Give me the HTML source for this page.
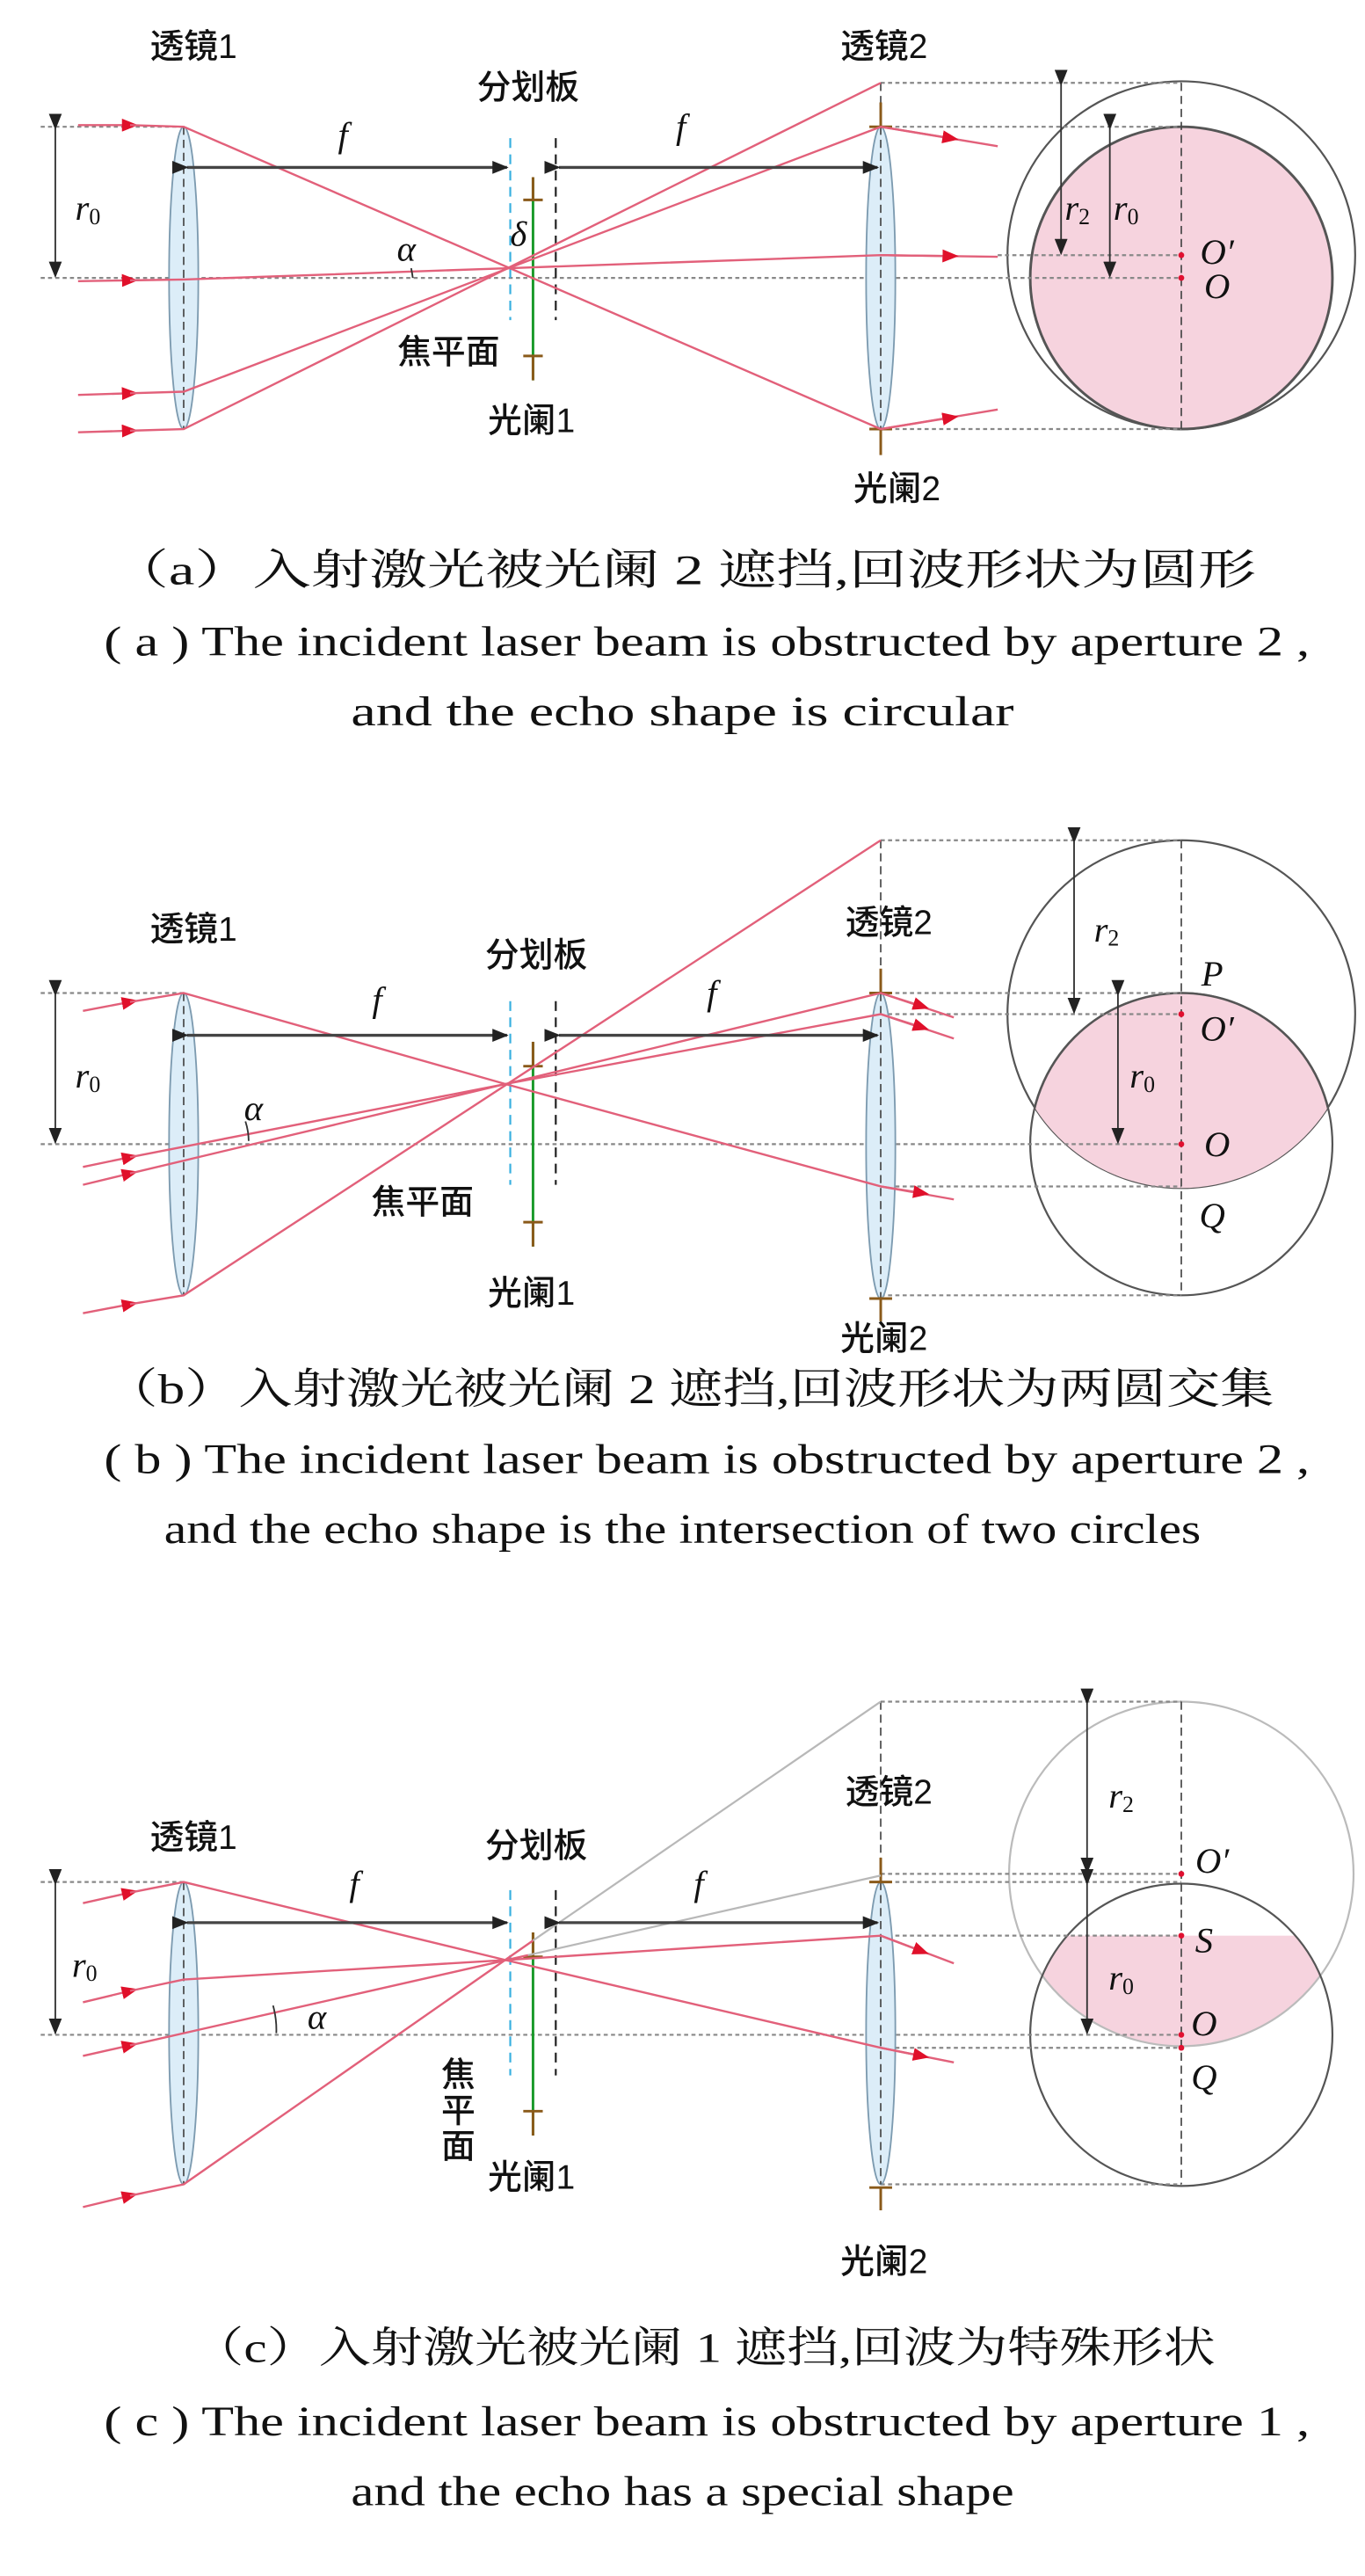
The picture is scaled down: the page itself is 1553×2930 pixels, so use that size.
<!DOCTYPE html>
<html><head><meta charset="utf-8"><style>
html,body{margin:0;padding:0;background:#fff;}
svg{display:block;}
.cj{font-family:"Liberation Sans","Noto Sans CJK SC",sans-serif;font-size:21px;font-weight:500;fill:#111;text-anchor:middle;dominant-baseline:central;}
.it{font-family:"Liberation Serif",serif;font-style:italic;font-size:22px;fill:#111;text-anchor:middle;dominant-baseline:central;}
.sub{font-size:14px;font-style:normal;}
.cap{font-family:"Liberation Serif","Noto Serif CJK SC",serif;font-size:26px;fill:#111;dominant-baseline:central;}
.ray{stroke:#e2607a;stroke-width:1.3;fill:none;}
.gray{stroke:#b8b8b8;stroke-width:1.2;fill:none;}
.dot{stroke:#888;stroke-width:1.2;stroke-dasharray:2.5 2;fill:none;}
.vd{stroke:#444;stroke-width:0.9;stroke-dasharray:5 3;fill:none;}
.lens{fill:#dcedf8;stroke:#7d9bb0;stroke-width:1;}
.ap{stroke:#8a5a1a;stroke-width:1.6;}
.grn{stroke:#1a9a2a;stroke-width:1.6;}
.cy{stroke:#3ab0e0;stroke-width:1.2;stroke-dasharray:6 4;}
.bd{stroke:#222;stroke-width:1.2;stroke-dasharray:6 4;}
.dim{stroke:#333;stroke-width:1;fill:none;}
.fdim{stroke:#444;stroke-width:1.8;fill:none;}
.circ{fill:none;stroke:#555;stroke-width:1.2;}
</style></head><body>
<svg width="1553" height="2930" viewBox="0 0 840 1585" xmlns="http://www.w3.org/2000/svg">
<defs>
<marker id="ar" markerUnits="userSpaceOnUse" markerWidth="10" markerHeight="8" refX="5" refY="4" orient="auto"><path d="M0,0 L10,4 L0,8 z" fill="#e0102a"/></marker>
<marker id="dk" markerUnits="userSpaceOnUse" markerWidth="10" markerHeight="8" refX="9" refY="4" orient="auto"><path d="M0,0 L10,4 L0,8 z" fill="#222"/></marker>
<clipPath id="cb"><circle cx="727" cy="624" r="107"/></clipPath>
<clipPath id="cc"><circle cx="727" cy="1153" r="106"/></clipPath>
</defs>

<!-- ================= PANEL A ================= -->
<g>
<circle cx="727" cy="157" r="107" class="circ"/>
<circle cx="727" cy="171" r="93" fill="#f6d3de" stroke="#555" stroke-width="1.6"/>
<line x1="25" y1="78" x2="113" y2="78" class="dot"/>
<line x1="25" y1="171" x2="727" y2="171" class="dot"/>
<line x1="542" y1="51" x2="727" y2="51" class="dot"/>
<line x1="542" y1="78" x2="727" y2="78" class="dot"/>
<line x1="614" y1="157" x2="727" y2="157" class="dot"/>
<line x1="542" y1="264" x2="727" y2="264" class="dot"/>
<line x1="727" y1="51" x2="727" y2="264" class="vd"/>
<line x1="542" y1="51" x2="542" y2="78" class="vd"/>
<ellipse cx="113" cy="171" rx="9" ry="93" class="lens"/>
<line x1="113" y1="78" x2="113" y2="264" class="vd"/>
<ellipse cx="542" cy="171" rx="9" ry="93" class="lens"/>
<line x1="542" y1="78" x2="542" y2="264" class="vd"/>
<line x1="314" y1="85" x2="314" y2="197" class="cy"/>
<line x1="342" y1="85" x2="342" y2="197" class="bd"/>
<line x1="328" y1="109" x2="328" y2="234" class="grn"/>
<line x1="322" y1="123" x2="334" y2="123" class="ap"/><line x1="322" y1="219" x2="334" y2="219" class="ap"/>
<line x1="328" y1="109" x2="328" y2="123" class="ap"/><line x1="328" y1="219" x2="328" y2="234" class="ap"/>
<line x1="542" y1="63" x2="542" y2="78" class="ap"/><line x1="542" y1="264" x2="542" y2="280" class="ap"/>
<line x1="535" y1="78" x2="549" y2="78" class="ap"/><line x1="535" y1="264" x2="549" y2="264" class="ap"/>
<path d="M48,77 L80,77" class="ray" marker-end="url(#ar)"/>
<path d="M80,77 L113,78 L542,264 L614,252" class="ray"/>
<path d="M48,173 L80,172.5" class="ray" marker-end="url(#ar)"/>
<path d="M80,172.5 L113,172 L313,165 L542,157 L614,158" class="ray"/>
<path d="M48,243 L80,242" class="ray" marker-end="url(#ar)"/>
<path d="M80,242 L113,241 L542,78 L614,90" class="ray"/>
<path d="M48,266 L80,265" class="ray" marker-end="url(#ar)"/>
<path d="M80,265 L113,264 L542,51" class="ray"/>
<path d="M542,78 L585,85" class="ray" marker-end="url(#ar)"/>
<path d="M542,157 L585,157.5" class="ray" marker-end="url(#ar)"/>
<path d="M542,264 L585,257" class="ray" marker-end="url(#ar)"/>
<line x1="34" y1="79" x2="34" y2="170" class="dim" marker-start="url(#dk)" marker-end="url(#dk)"/>
<line x1="115" y1="103" x2="312" y2="103" class="fdim" marker-start="url(#dk)" marker-end="url(#dk)"/>
<line x1="344" y1="103" x2="540" y2="103" class="fdim" marker-start="url(#dk)" marker-end="url(#dk)"/>
<line x1="653" y1="52" x2="653" y2="156" class="dim" marker-start="url(#dk)" marker-end="url(#dk)"/>
<line x1="683" y1="79" x2="683" y2="170" class="dim" marker-start="url(#dk)" marker-end="url(#dk)"/>
<circle cx="727" cy="157" r="1.8" fill="#e01030"/><circle cx="727" cy="171" r="1.8" fill="#e01030"/>
<path d="M253,165 A60,60 0 0 1 254,171" class="dim"/>
<text x="119" y="29" class="cj">透镜1</text>
<text x="544" y="29" class="cj">透镜2</text>
<text x="325" y="54" class="cj">分划板</text>
<text x="276" y="217" class="cj">焦平面</text>
<text x="327" y="259" class="cj">光阑1</text>
<text x="552" y="301" class="cj">光阑2</text>
<text x="211" y="83" class="it">f</text>
<text x="419" y="78" class="it">f</text>
<text x="54" y="128" class="it">r<tspan class="sub" dy="5">0</tspan></text>
<text x="319" y="144" class="it">δ</text>
<text x="250" y="153" class="it">α</text>
<text x="663" y="128" class="it">r<tspan class="sub" dy="5">2</tspan></text>
<text x="693" y="128" class="it">r<tspan class="sub" dy="5">0</tspan></text>
<text x="749" y="155" class="it">O′</text>
<text x="749" y="176" class="it">O</text>
<text x="68" y="351" class="cap" textLength="705" lengthAdjust="spacingAndGlyphs">（a）入射激光被光阑 2 遮挡,回波形状为圆形</text>
<text x="64" y="395" class="cap" textLength="742" lengthAdjust="spacingAndGlyphs">( a ) The incident laser beam is obstructed by aperture 2 ,</text>
<text x="216" y="438" class="cap" textLength="408" lengthAdjust="spacingAndGlyphs">and the echo shape is circular</text>
</g>

<!-- ================= PANEL B ================= -->
<g>
<circle cx="727" cy="624" r="107" class="circ"/>
<circle cx="727" cy="704" r="93" class="circ"/>
<circle cx="727" cy="704" r="93" fill="#f6d3de" stroke="#555" stroke-width="1.4" clip-path="url(#cb)"/>
<line x1="25" y1="611" x2="113" y2="611" class="dot"/>
<line x1="25" y1="704" x2="727" y2="704" class="dot"/>
<line x1="542" y1="517" x2="727" y2="517" class="dot"/>
<line x1="542" y1="611" x2="727" y2="611" class="dot"/>
<line x1="542" y1="624" x2="727" y2="624" class="dot"/>
<line x1="542" y1="730" x2="727" y2="730" class="dot"/>
<line x1="542" y1="797" x2="727" y2="797" class="dot"/>
<line x1="727" y1="517" x2="727" y2="797" class="vd"/>
<line x1="542" y1="517" x2="542" y2="611" class="vd"/>
<ellipse cx="113" cy="704" rx="9" ry="93" class="lens"/>
<line x1="113" y1="611" x2="113" y2="797" class="vd"/>
<ellipse cx="542" cy="705" rx="9" ry="94" class="lens"/>
<line x1="542" y1="611" x2="542" y2="799" class="vd"/>
<line x1="314" y1="616" x2="314" y2="729" class="cy"/>
<line x1="342" y1="616" x2="342" y2="729" class="bd"/>
<line x1="328" y1="641" x2="328" y2="767" class="grn"/>
<line x1="322" y1="656" x2="334" y2="656" class="ap"/><line x1="322" y1="752" x2="334" y2="752" class="ap"/>
<line x1="328" y1="641" x2="328" y2="656" class="ap"/><line x1="328" y1="752" x2="328" y2="767" class="ap"/>
<line x1="542" y1="596" x2="542" y2="611" class="ap"/><line x1="542" y1="799" x2="542" y2="813" class="ap"/>
<line x1="535" y1="611" x2="549" y2="611" class="ap"/><line x1="535" y1="799" x2="549" y2="799" class="ap"/>
<path d="M51,622 L80,616.5" class="ray" marker-end="url(#ar)"/>
<path d="M80,616.5 L113,611 L311,667 L542,730 L587,738" class="ray"/>
<path d="M51,718 L80,712" class="ray" marker-end="url(#ar)"/>
<path d="M80,712 L311,667 L542,611 L587,626" class="ray"/>
<path d="M51,729 L80,722" class="ray" marker-end="url(#ar)"/>
<path d="M80,722 L311,667 L542,624 L587,639" class="ray"/>
<path d="M51,808 L80,802.5" class="ray" marker-end="url(#ar)"/>
<path d="M80,802.5 L113,797 L542,517" class="ray"/>
<path d="M542,611 L567,619" class="ray" marker-end="url(#ar)"/>
<path d="M542,624 L567,632" class="ray" marker-end="url(#ar)"/>
<path d="M542,730 L567,734" class="ray" marker-end="url(#ar)"/>
<line x1="34" y1="612" x2="34" y2="703" class="dim" marker-start="url(#dk)" marker-end="url(#dk)"/>
<line x1="115" y1="637" x2="312" y2="637" class="fdim" marker-start="url(#dk)" marker-end="url(#dk)"/>
<line x1="344" y1="637" x2="540" y2="637" class="fdim" marker-start="url(#dk)" marker-end="url(#dk)"/>
<line x1="661" y1="518" x2="661" y2="623" class="dim" marker-start="url(#dk)" marker-end="url(#dk)"/>
<line x1="688" y1="612" x2="688" y2="703" class="dim" marker-start="url(#dk)" marker-end="url(#dk)"/>
<circle cx="727" cy="624" r="1.8" fill="#e01030"/><circle cx="727" cy="704" r="1.8" fill="#e01030"/>
<path d="M151,690 A40,40 0 0 1 153,702" class="dim"/>
<text x="119" y="572" class="cj">透镜1</text>
<text x="547" y="568" class="cj">透镜2</text>
<text x="330" y="588" class="cj">分划板</text>
<text x="260" y="740" class="cj">焦平面</text>
<text x="327" y="796" class="cj">光阑1</text>
<text x="544" y="824" class="cj">光阑2</text>
<text x="232" y="615" class="it">f</text>
<text x="438" y="611" class="it">f</text>
<text x="54" y="662" class="it">r<tspan class="sub" dy="5">0</tspan></text>
<text x="156" y="682" class="it">α</text>
<text x="681" y="572" class="it">r<tspan class="sub" dy="5">2</tspan></text>
<text x="703" y="662" class="it">r<tspan class="sub" dy="5">0</tspan></text>
<text x="746" y="599" class="it">P</text>
<text x="749" y="633" class="it">O′</text>
<text x="749" y="704" class="it">O</text>
<text x="746" y="748" class="it">Q</text>
<text x="64" y="855" class="cap" textLength="720" lengthAdjust="spacingAndGlyphs">（b）入射激光被光阑 2 遮挡,回波形状为两圆交集</text>
<text x="64" y="898" class="cap" textLength="742" lengthAdjust="spacingAndGlyphs">( b ) The incident laser beam is obstructed by aperture 2 ,</text>
<text x="101" y="941" class="cap" textLength="638" lengthAdjust="spacingAndGlyphs">and the echo shape is the intersection of two circles</text>
</g>

<!-- ================= PANEL C ================= -->
<g>
<circle cx="727" cy="1252" r="93" fill="#f6d3de" clip-path="url(#cc)"/>
<rect x="610" y="1150" width="230" height="41" fill="#fff"/>
<circle cx="727" cy="1153" r="106" fill="none" stroke="#bbb" stroke-width="1.2"/>
<circle cx="727" cy="1252" r="93" class="circ"/>
<line x1="25" y1="1158" x2="113" y2="1158" class="dot"/>
<line x1="25" y1="1252" x2="727" y2="1252" class="dot"/>
<line x1="542" y1="1047" x2="727" y2="1047" class="dot"/>
<line x1="542" y1="1153" x2="727" y2="1153" class="dot"/>
<line x1="542" y1="1158" x2="727" y2="1158" class="dot"/>
<line x1="542" y1="1191" x2="727" y2="1191" class="dot"/>
<line x1="542" y1="1260" x2="727" y2="1260" class="dot"/>
<line x1="542" y1="1344" x2="727" y2="1344" class="dot"/>
<line x1="727" y1="1047" x2="727" y2="1344" class="vd"/>
<line x1="542" y1="1047" x2="542" y2="1158" class="vd"/>
<ellipse cx="113" cy="1251" rx="9" ry="93" class="lens"/>
<line x1="113" y1="1158" x2="113" y2="1344" class="vd"/>
<ellipse cx="542" cy="1251" rx="9" ry="93" class="lens"/>
<line x1="542" y1="1158" x2="542" y2="1344" class="vd"/>
<line x1="314" y1="1163" x2="314" y2="1277" class="cy"/>
<line x1="342" y1="1163" x2="342" y2="1277" class="bd"/>
<line x1="328" y1="1189" x2="328" y2="1314" class="grn"/>
<line x1="322" y1="1204" x2="334" y2="1204" class="ap"/><line x1="322" y1="1299" x2="334" y2="1299" class="ap"/>
<line x1="328" y1="1189" x2="328" y2="1204" class="ap"/><line x1="328" y1="1299" x2="328" y2="1314" class="ap"/>
<line x1="542" y1="1143" x2="542" y2="1158" class="ap"/><line x1="542" y1="1346" x2="542" y2="1360" class="ap"/>
<line x1="535" y1="1158" x2="549" y2="1158" class="ap"/><line x1="535" y1="1346" x2="549" y2="1346" class="ap"/>
<path d="M51,1171 L80,1164.5" class="ray" marker-end="url(#ar)"/>
<path d="M80,1164.5 L113,1158 L311,1206 L542,1260 L587,1269" class="ray"/>
<path d="M51,1232 L80,1225" class="ray" marker-end="url(#ar)"/>
<path d="M80,1225 L113,1218 L311,1206 L542,1191 L587,1208" class="ray"/>
<path d="M51,1265 L80,1258.5" class="ray" marker-end="url(#ar)"/>
<path d="M80,1258.5 L325,1203" class="ray"/>
<path d="M325,1203 L542,1154" class="gray"/>
<path d="M51,1358 L80,1351" class="ray" marker-end="url(#ar)"/>
<path d="M80,1351 L113,1344 L328,1194" class="ray"/>
<path d="M328,1194 L542,1047" class="gray"/>
<path d="M542,1191 L567,1200.5" class="ray" marker-end="url(#ar)"/>
<path d="M542,1260 L567,1265" class="ray" marker-end="url(#ar)"/>
<line x1="34" y1="1159" x2="34" y2="1251" class="dim" marker-start="url(#dk)" marker-end="url(#dk)"/>
<line x1="115" y1="1183" x2="312" y2="1183" class="fdim" marker-start="url(#dk)" marker-end="url(#dk)"/>
<line x1="344" y1="1183" x2="540" y2="1183" class="fdim" marker-start="url(#dk)" marker-end="url(#dk)"/>
<line x1="669" y1="1048" x2="669" y2="1152" class="dim" marker-start="url(#dk)" marker-end="url(#dk)"/>
<line x1="669" y1="1159" x2="669" y2="1251" class="dim" marker-start="url(#dk)" marker-end="url(#dk)"/>
<circle cx="727" cy="1153" r="1.8" fill="#e01030"/><circle cx="727" cy="1191" r="1.8" fill="#e01030"/>
<circle cx="727" cy="1252" r="1.8" fill="#e01030"/><circle cx="727" cy="1260" r="1.8" fill="#e01030"/>
<path d="M168,1234 A55,55 0 0 1 170,1251" class="dim"/>
<text x="119" y="1131" class="cj">透镜1</text>
<text x="547" y="1103" class="cj">透镜2</text>
<text x="330" y="1136" class="cj">分划板</text>
<text x="282" y="1277" class="cj">焦</text>
<text x="282" y="1299" class="cj">平</text>
<text x="282" y="1321" class="cj">面</text>
<text x="327" y="1340" class="cj">光阑1</text>
<text x="544" y="1392" class="cj">光阑2</text>
<text x="218" y="1159" class="it">f</text>
<text x="430" y="1159" class="it">f</text>
<text x="52" y="1209" class="it">r<tspan class="sub" dy="5">0</tspan></text>
<text x="195" y="1241" class="it">α</text>
<text x="690" y="1105" class="it">r<tspan class="sub" dy="5">2</tspan></text>
<text x="690" y="1217" class="it">r<tspan class="sub" dy="5">0</tspan></text>
<text x="746" y="1145" class="it">O′</text>
<text x="741" y="1194" class="it">S</text>
<text x="741" y="1245" class="it">O</text>
<text x="741" y="1278" class="it">Q</text>
<text x="118" y="1445" class="cap" textLength="630" lengthAdjust="spacingAndGlyphs">（c）入射激光被光阑 1 遮挡,回波为特殊形状</text>
<text x="64" y="1490" class="cap" textLength="742" lengthAdjust="spacingAndGlyphs">( c ) The incident laser beam is obstructed by aperture 1 ,</text>
<text x="216" y="1533" class="cap" textLength="408" lengthAdjust="spacingAndGlyphs">and the echo has a special shape</text>
</g>
</svg>
</body></html>
